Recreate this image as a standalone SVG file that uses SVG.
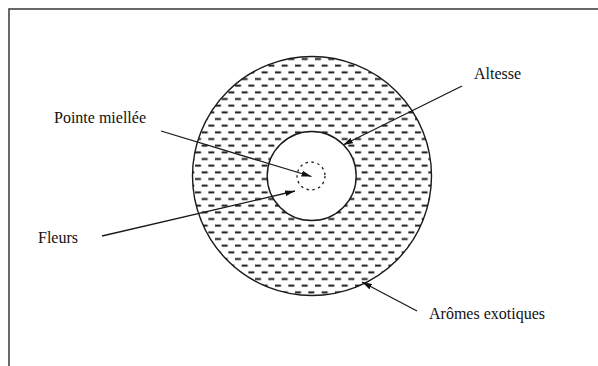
<svg xmlns="http://www.w3.org/2000/svg" width="598" height="366" viewBox="0 0 598 366">
<style>
.lbl{font-family:'Liberation Serif','Times New Roman','DejaVu Serif',serif;font-size:16px;fill:#111}
.ln{stroke:#1a1a1a;stroke-width:1.3;fill:none}
.circ{stroke:#1a1a1a;stroke-width:1.4}
</style>
<defs>
<pattern id="hatch" patternUnits="userSpaceOnUse" x="281.67" y="62.33" width="13.333" height="13.333">
<rect x="0" y="2.4" width="6" height="1.9" fill="#111"/>
<rect x="6.67" y="9.07" width="6" height="1.9" fill="#111"/>
</pattern>
<marker id="ah" viewBox="0 0 10 6" refX="10" refY="3" markerWidth="10" markerHeight="6" markerUnits="userSpaceOnUse" orient="auto">
<path d="M0,0 L10,3 L0,6 Z" fill="#111"/>
</marker>
</defs>
<rect x="0" y="0" width="598" height="366" fill="#fff"/>
<rect id="frame" x="9" y="9" width="600" height="370" fill="none" stroke="#444" stroke-width="1.6"/>
<g id="outer">
<circle cx="312" cy="176" r="119.5" fill="url(#hatch)" class="circ"/>
</g>
<g id="inner">
<circle cx="311.7" cy="176" r="44.5" fill="#fff" class="circ"/>
</g>
<g id="core">
<circle cx="311" cy="176" r="14" fill="none" stroke="#222" stroke-width="1.3" stroke-dasharray="2.5 3.5"/>
</g>
<g id="connectors">
<line class="ln" x1="462" y1="86" x2="343" y2="145" marker-end="url(#ah)"/>
<line class="ln" x1="161" y1="131" x2="311.5" y2="176.5" marker-end="url(#ah)"/>
<line class="ln" x1="102" y1="236" x2="295" y2="191" marker-end="url(#ah)"/>
<line class="ln" x1="417" y1="311" x2="362" y2="282" marker-end="url(#ah)"/>
</g>
<g id="label-altesse"><text class="lbl" x="474" y="79" font-family="Liberation Serif, serif">Altesse</text></g>
<g id="label-pointe"><text class="lbl" x="54" y="122.5" font-family="Liberation Serif, serif">Pointe miellée</text></g>
<g id="label-fleurs"><text class="lbl" x="38" y="243" font-family="Liberation Serif, serif">Fleurs</text></g>
<g id="label-aromes"><text class="lbl" x="429" y="319" font-family="Liberation Serif, serif">Arômes exotiques</text></g>
</svg>
